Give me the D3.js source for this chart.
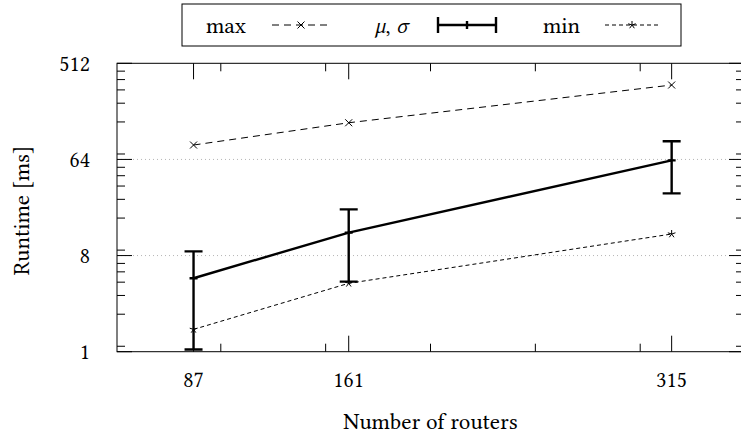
<!DOCTYPE html>
<html>
<head>
<meta charset="utf-8">
<script src="https://cdn.jsdelivr.net/npm/d3@7"></script>
</head>
<body style="margin:0">
<svg width="741" height="435"></svg>
<script>
// data
var routers   = [87, 161, 315];
var maxVals   = [87.4, 141.5, 320];
var meanVals  = [4.9, 13.15, 62.7];
var sdVals    = [3.85, 8.6, 32];
var minVals   = [1.62, 4.39, 12.75];

var xTicks      = [87, 161, 315];
var xMinorTicks = [100, 150, 200, 250, 300];
var yTicks      = [1, 8, 64, 512];
var yMinorMult  = [1.125, 2.25, 3.375, 4.5, 5.625, 6.75];

var FONT = "Libertinus Serif";

var svg = d3.select("svg");

var x = d3.scaleLinear()
    .domain([50.5, 349.5])
    .range([117, 744]);

var y = d3.scaleLog()
    .base(2)
    .domain([1, 512])
    .range([351.7, 63.3]);

var top_ = y(512), bottom = y(1), left = x.range()[0], right = x.range()[1];

// grid
svg.append("g")
    .selectAll("line")
    .data([8, 64])
    .enter().append("line")
    .attr("x1", left).attr("x2", right)
    .attr("y1", function(d) { return y(d); })
    .attr("y2", function(d) { return y(d); })
    .style("stroke", "#b5b5b5")
    .style("stroke-width", 1)
    .style("stroke-dasharray", "1,3");

// ticks (inward, all four sides)
var yMinor = [];
yTicks.slice(0, 3).forEach(function(t) {
  yMinorMult.forEach(function(m) { yMinor.push(t * m); });
});

var ticks = svg.append("g").style("stroke", "#000").style("stroke-width", 1);

function xTick(v, len) {
  ticks.append("line").attr("x1", x(v)).attr("x2", x(v)).attr("y1", bottom).attr("y2", bottom - len);
  ticks.append("line").attr("x1", x(v)).attr("x2", x(v)).attr("y1", top_).attr("y2", top_ + len);
}
function yTick(v, len) {
  ticks.append("line").attr("y1", y(v)).attr("y2", y(v)).attr("x1", left).attr("x2", left + len);
  ticks.append("line").attr("y1", y(v)).attr("y2", y(v)).attr("x1", right).attr("x2", right - len);
}
xTicks.forEach(function(v) { xTick(v, 16); });
xMinorTicks.forEach(function(v) { xTick(v, 8); });
yTicks.forEach(function(v) { yTick(v, 15); });
yMinor.forEach(function(v) { yTick(v, 8); });

// frame
svg.append("rect")
    .attr("x", left).attr("y", top_)
    .attr("width", right - left).attr("height", bottom - top_)
    .style("fill", "none")
    .style("stroke", "#000")
    .style("stroke-width", 1);

// tick labels
svg.append("g")
    .selectAll("text")
    .data(xTicks)
    .enter().append("text")
    .attr("x", function(d) { return x(d); })
    .attr("y", 386.5)
    .attr("text-anchor", "middle")
    .attr("font-family", FONT)
    .style("font-size", "22px")
    .text(function(d) { return d; });

svg.append("g")
    .selectAll("text")
    .data(yTicks)
    .enter().append("text")
    .attr("x", 90)
    .attr("y", function(d) { return y(d); })
    .attr("dy", "0.33em")
    .attr("text-anchor", "end")
    .attr("font-family", FONT)
    .style("font-size", "22px")
    .text(function(d) { return d; });

// axis labels
svg.append("text")
    .attr("x", (left + right) / 2)
    .attr("y", 429)
    .attr("text-anchor", "middle")
    .attr("font-family", FONT)
    .style("font-size", "23px")
    .text("Number of routers");

svg.append("text")
    .attr("transform", "translate(29," + ((top_ + bottom) / 2 + 3) + ") rotate(-90)")
    .attr("text-anchor", "middle")
    .attr("font-family", FONT)
    .style("font-size", "23px")
    .text("Runtime [ms]");

// series
var maxData = routers.map(function(r, i) { return {x: r, y: maxVals[i]}; });
var minData = routers.map(function(r, i) { return {x: r, y: minVals[i]}; });
var meanData = routers.map(function(r, i) { return {x: r, y: meanVals[i], sd: sdVals[i]}; });

var line = d3.line()
    .x(function(d) { return x(d.x); })
    .y(function(d) { return y(d.y); });

svg.append("path")
    .datum(maxData)
    .attr("d", line)
    .style("fill", "none").style("stroke", "#000").style("stroke-width", 1)
    .style("stroke-dasharray", "7,5");

svg.append("path")
    .datum(minData)
    .attr("d", line)
    .style("fill", "none").style("stroke", "#000").style("stroke-width", 1)
    .style("stroke-dasharray", "4,3");

svg.append("path")
    .datum(meanData)
    .attr("d", line)
    .style("fill", "none").style("stroke", "#000").style("stroke-width", 2.4);

svg.append("defs").append("clipPath").attr("id", "clip")
    .append("rect").attr("x", 0).attr("y", top_ - 20).attr("width", 741).attr("height", bottom - top_ + 22);

var bars = svg.append("g")
    .attr("clip-path", "url(#clip)")
    .style("stroke", "#000")
    .style("stroke-width", 2.4);

meanData.forEach(function(d) {
  var hi = y(d.y + d.sd), lo = y(d.y - d.sd), cx = x(d.x);
  bars.append("line").attr("x1", cx).attr("x2", cx).attr("y1", hi).attr("y2", lo);
  bars.append("line").attr("x1", cx - 9).attr("x2", cx + 9).attr("y1", hi).attr("y2", hi);
  bars.append("line").attr("x1", cx - 9).attr("x2", cx + 9).attr("y1", lo).attr("y2", lo);
  bars.append("line").attr("x1", cx - 4).attr("x2", cx + 4).attr("y1", y(d.y)).attr("y2", y(d.y));
});

// markers
function cross(g, cx, cy) {
  var s = 3.5;
  g.append("path")
    .attr("d", "M" + (cx - s) + "," + (cy - s) + "L" + (cx + s) + "," + (cy + s) +
               "M" + (cx - s) + "," + (cy + s) + "L" + (cx + s) + "," + (cy - s))
    .style("stroke", "#000").style("stroke-width", 1).style("fill", "none");
}
function star(g, cx, cy) {
  var s = 4, p = "";
  for (var k = 0; k < 5; k++) {
    var a = -Math.PI / 2 + k * 2 * Math.PI / 5;
    p += "M" + cx + "," + cy + "L" + (cx + s * Math.cos(a)) + "," + (cy + s * Math.sin(a));
  }
  g.append("path").attr("d", p)
    .style("stroke", "#000").style("stroke-width", 1).style("fill", "none");
}

var marks = svg.append("g");
maxData.forEach(function(d) { cross(marks, x(d.x), y(d.y)); });
minData.forEach(function(d) { star(marks, x(d.x), y(d.y)); });

// legend
var lg = svg.append("g");
lg.append("rect")
    .attr("x", 182).attr("y", 4).attr("width", 499).attr("height", 42)
    .style("fill", "#fff").style("stroke", "#000").style("stroke-width", 1);

lg.append("text").attr("x", 206).attr("y", 33).attr("font-family", FONT).style("font-size", "23px").text("max");
lg.append("line").attr("x1", 272).attr("x2", 330).attr("y1", 25).attr("y2", 25)
    .style("stroke", "#000").style("stroke-width", 1).style("stroke-dasharray", "7,5");
cross(lg, 301, 25);

var mu = lg.append("text").attr("x", 375).attr("y", 33).attr("font-family", FONT).style("font-size", "23px");
mu.append("tspan").style("font-style", "italic").text("μ");
mu.append("tspan").text(", ");
mu.append("tspan").style("font-style", "italic").text("σ");

var eb = lg.append("g").style("stroke", "#000").style("stroke-width", 2.4);
eb.append("line").attr("x1", 438).attr("x2", 496).attr("y1", 25).attr("y2", 25);
eb.append("line").attr("x1", 438).attr("x2", 438).attr("y1", 17).attr("y2", 33);
eb.append("line").attr("x1", 496).attr("x2", 496).attr("y1", 17).attr("y2", 33);
eb.append("line").attr("x1", 467).attr("x2", 467).attr("y1", 21).attr("y2", 29);

lg.append("text").attr("x", 543).attr("y", 33).attr("font-family", FONT).style("font-size", "23px").text("min");
lg.append("line").attr("x1", 605).attr("x2", 660).attr("y1", 25).attr("y2", 25)
    .style("stroke", "#000").style("stroke-width", 1).style("stroke-dasharray", "4,3");
star(lg, 632, 25);
</script>
</body>
</html>
